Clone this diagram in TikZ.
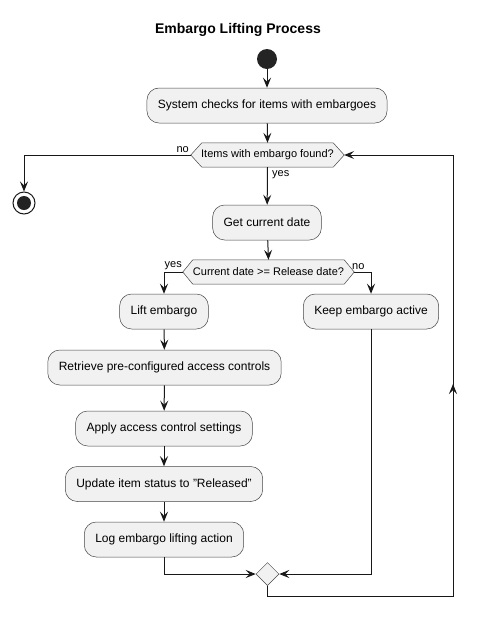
\documentclass[tikz,border=0pt]{standalone}
\usepackage{fontspec}
\setmainfont{Liberation Sans}
\usetikzlibrary{arrows.meta,shapes.geometric,calc}
\definecolor{boxfill}{HTML}{F1F1F1}
\definecolor{boxline}{HTML}{181818}
\definecolor{ink}{HTML}{181818}
\begin{document}
\begin{tikzpicture}[x=1pt,y=-1pt,
  act/.style={rectangle, rounded corners=12pt, draw=boxline!80, fill=boxfill, line width=0.5pt,
    font=\fontsize{12}{14}\selectfont, minimum height=35pt, inner xsep=11pt, inner ysep=0pt},
  dec/.style={rectangle, inner sep=0pt, minimum height=24pt, font=\fontsize{11}{13}\selectfont},
  hexline/.style={draw=boxline!80, fill=boxfill, line width=0.5pt},
  lbl/.style={font=\fontsize{11}{13}\selectfont, inner sep=0pt},
  conn/.style={draw=ink, line width=1pt},
  arr/.style={conn, -{Stealth[length=10pt,width=8pt,inset=4pt]}}
]
\useasboundingbox (0,0) rectangle (478,619);
\fill[white] (0,0) rectangle (478,619);

\node[font=\bfseries\fontsize{14}{16}\selectfont] (title) at (238,30) {Embargo Lifting Process};

\node[circle, fill=ink!95, minimum size=20pt, inner sep=0pt] (start) at (267,59) {};

\node[act] (b1) at (267,105.5) {System checks for items with embargoes};

% decision 1
\node[dec, minimum width=131pt] (d1) at (267.5,155) {};
\coordinate (d1l) at ([xshift=-11pt]d1.west);
\coordinate (d1r) at ([xshift=11pt]d1.east);
\draw[hexline] (d1.north west) -- (d1.north east) -- (d1r) -- (d1.south east) -- (d1.south west) -- (d1l) -- cycle;
\node[dec] at (d1) {Items with embargo found?};

% end
\node[circle, draw=ink, line width=1pt, fill=white, minimum size=22pt, inner sep=0pt] (end) at (24,203) {};
\fill[ink!95] (end.center) circle (7pt);

\node[act] (b2) at (267,222.5) {Get current date};

% decision 2
\node[dec, minimum width=151pt] (d2) at (268.5,272) {};
\coordinate (d2l) at ([xshift=-10pt]d2.west);
\coordinate (d2r) at ([xshift=10pt]d2.east);
\draw[hexline] (d2.north west) -- (d2.north east) -- (d2r) -- (d2.south east) -- (d2.south west) -- (d2l) -- cycle;
\node[dec] at (d2) {Current date >= Release date?};

\node[act] (lift) at (164,311.5) {Lift embargo};
\node[act] (keep) at (371,311.5) {Keep embargo active};
\node[act] (retr) at (164.5,367.5) {Retrieve pre-configured access controls};
\node[act] (apply) at (164,428.5) {Apply access control settings};
\node[act] (upd) at (164,484) {Update item status to "Released"};
\node[act] (log) at (164,539.5) {Log embargo lifting action};

\node[diamond, draw=boxline!80, fill=boxfill, line width=0.5pt, minimum width=23pt, minimum height=23pt, inner sep=0pt] (m) at (267.5,574) {};

% connectors
\draw[arr] (start) -- (b1);
\draw[arr] (b1) -- (d1.north);
\draw[arr] (d1l) -| (end.north);
\draw[arr] (d1.south) -- (b2);
\draw[arr] (b2) -- (d2.north);
\draw[arr] (d2l) -| (lift.north);
\draw[arr] (d2r) -| (keep.north);
\draw[arr] (lift) -- (retr);
\draw[arr] (retr) -- (apply);
\draw[arr] (apply) -- (upd);
\draw[arr] (upd) -- (log);
\draw[arr] (log.south) |- (m.west);
\draw[arr] (keep.south) |- (m.east);

\coordinate (lb) at (267.5,596);
\coordinate (rb) at (453,596);
\coordinate (rt) at (453,155);
\coordinate (mid) at (453,384);
\draw[arr] (m.south) -- (lb) -- (rb) -- (rt) -- (d1r);
\draw[arr] (rb) -- (mid);

% labels
\node[lbl, anchor=south east] (l1) at (189,153) {no};
\node[lbl, anchor=west] (l2) at (272,175) {yes};
\node[lbl, anchor=south east] (l3) at (182,270) {yes};
\node[lbl, anchor=south west] (l4) at (352,270) {no};
\end{tikzpicture}
\end{document}
